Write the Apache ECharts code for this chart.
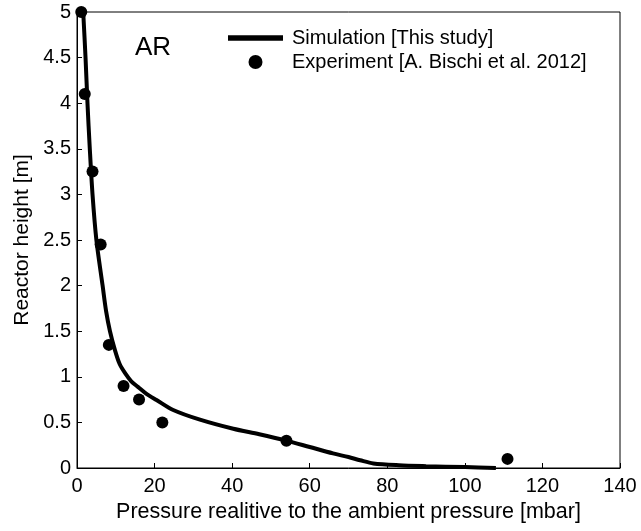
<!DOCTYPE html>
<html>
<head>
<meta charset="utf-8">
<script src="https://cdn.jsdelivr.net/npm/echarts@6/dist/echarts.min.js"></script>
<style>html,body{margin:0;padding:0;background:#fff;}#c{width:641px;height:531px;}</style>
</head>
<body>
<div id="c"></div>
<script>
// Simulation curve [pressure mbar, height m]
const simulation = [
  [1.6, 5.0], [2.2, 4.5], [2.7, 4.0], [3.3, 3.5], [4.0, 3.0], [5.0, 2.5],
  [6.6, 2.0], [7.5, 1.72], [8.5, 1.5], [9.8, 1.29], [11.0, 1.14], [12.4, 1.04],
  [14.0, 0.95], [15.7, 0.89], [18.0, 0.81], [20.5, 0.745], [24.8, 0.636],
  [31.7, 0.53], [40.3, 0.43], [47.0, 0.37], [54.0, 0.30], [60.0, 0.23],
  [66.0, 0.16], [70.0, 0.12], [73.0, 0.085], [76.4, 0.05], [83.0, 0.03],
  [90.0, 0.02], [100.0, 0.01], [108.0, 0.0]
];
// Experiment points
const experiment = [
  [1.1, 5.0], [2.0, 4.1], [4.0, 3.25], [6.1, 2.45], [8.2, 1.35],
  [12.0, 0.9], [16.0, 0.75], [22.0, 0.5], [54.0, 0.3], [111.0, 0.1]
];
const seriesNames = ['Simulation [This study]', 'Experiment [A. Bischi et al. 2012]'];
const xAxisTitle = 'Pressure realitive to the ambient pressure [mbar]';
const yAxisTitle = 'Reactor height [m]';
const annotation = 'AR';

const font = 'Liberation Sans, Arial, sans-serif';
const chart = echarts.init(document.getElementById('c'));
chart.setOption({
  animation: false,
  backgroundColor: '#fff',
  grid: { left: 77, right: 21, top: 12, bottom: 63, show: true, borderColor: '#000', borderWidth: 1, backgroundColor: 'transparent' },
  legend: {
    orient: 'vertical', left: 228, top: 28, padding: 0, itemWidth: 55, itemHeight: 14, itemGap: 4,
    textStyle: { fontFamily: font, fontSize: 20, color: '#000', padding: [0, 0, 0, 4] },
    data: [
      { name: seriesNames[0], icon: 'path://M0,0H10V1H0Z', itemStyle: { color: '#000' } },
      { name: seriesNames[1] }
    ]
  },
  xAxis: {
    type: 'value', min: 0, max: 140, interval: 20,
    name: xAxisTitle, nameLocation: 'middle', nameGap: 31,
    nameTextStyle: { fontFamily: font, fontSize: 21.5, color: '#000' },
    axisLine: { lineStyle: { color: '#000', width: 1 } },
    axisTick: { inside: true, length: 5, lineStyle: { color: '#000' } },
    axisLabel: { fontFamily: font, fontSize: 20, color: '#000', margin: 8 },
    splitLine: { show: false }
  },
  yAxis: {
    type: 'value', min: 0, max: 5, interval: 0.5,
    name: yAxisTitle, nameLocation: 'middle', nameGap: 43,
    nameTextStyle: { fontFamily: font, fontSize: 21, color: '#000' },
    axisLine: { show: true, lineStyle: { color: '#000', width: 1 } },
    axisTick: { show: true, inside: true, length: 5, lineStyle: { color: '#000' } },
    axisLabel: { fontFamily: font, fontSize: 20, color: '#000', margin: 6 },
    splitLine: { show: false }
  },
  graphic: [
    { type: 'text', left: 135, top: 35, style: { text: annotation, fontFamily: font, fontSize: 26, fill: '#000' } }
  ],
  series: [
    {
      name: seriesNames[0], type: 'line', data: simulation, smooth: 0.3,
      showSymbol: false, symbol: 'none',
      lineStyle: { color: '#000', width: 4 }, itemStyle: { color: '#000' }, z: 2
    },
    {
      name: seriesNames[1], type: 'scatter', data: experiment, symbol: 'circle', symbolSize: 12,
      itemStyle: { color: '#000', opacity: 1 }, z: 3
    }
  ]
});
</script>
</body>
</html>
